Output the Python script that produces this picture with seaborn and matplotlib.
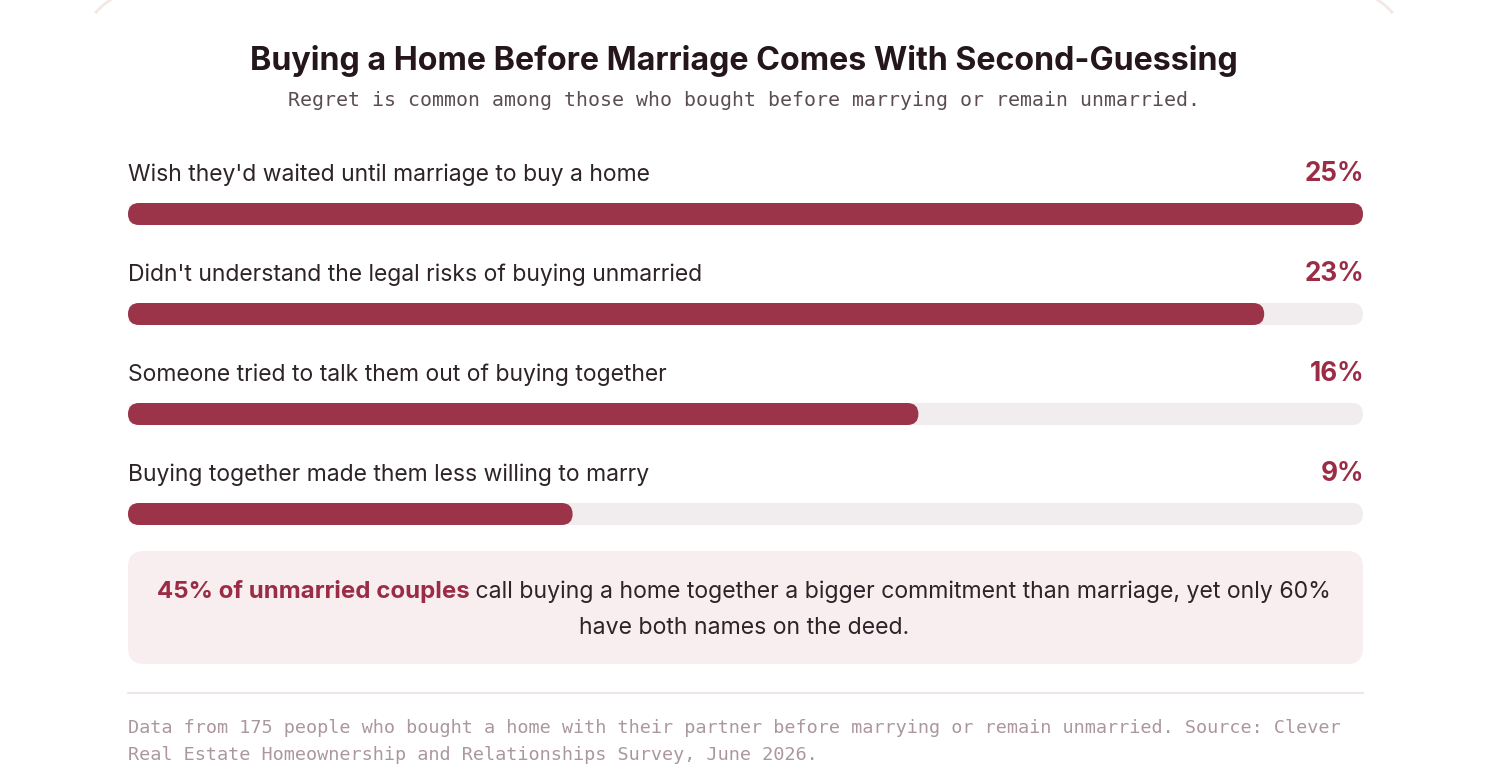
import matplotlib
matplotlib.use("Agg")
import matplotlib.pyplot as plt
import seaborn as sns
import pandas as pd
from matplotlib.patches import FancyBboxPatch, Arc

# ---- data ----
categories = [
    "Wish they'd waited until marriage to buy a home",
    "Didn't understand the legal risks of buying unmarried",
    "Someone tried to talk them out of buying together",
    "Buying together made them less willing to marry",
]
values = [25, 23, 16, 9]
title = "Buying a Home Before Marriage Comes With Second-Guessing"
subtitle = "Regret is common among those who bought before marrying or remain unmarried."
callout_bold = "45% of unmarried couples"
callout_line1 = " call buying a home together a bigger commitment than marriage, yet only 60%"
callout_line2 = "have both names on the deed."
footer_lines = [
    "Data from 175 people who bought a home with their partner before marrying or remain unmarried. Source: Clever",
    "Real Estate Homeownership and Relationships Survey, June 2026.",
]

BAR = "#9b3449"
TRACK = "#f1edee"
PCT = "#9b2c45"
TITLE_C = "#24161b"
LABEL_C = "#2d2328"
SUB_C = "#5b4d52"
BOX_C = "#f8eef0"
DIV_C = "#eee6e5"
FOOT_C = "#ab979c"

sns.set_theme(style="white")
plt.rcParams["font.family"] = ["Inter", "DejaVu Sans"]

W, H = 1488, 779
fig = plt.figure(figsize=(W / 100, H / 100), dpi=100)
fig.patch.set_facecolor("white")

ax0 = fig.add_axes([0, 0, 1, 1])
ax0.set_xlim(0, W)
ax0.set_ylim(H, 0)
ax0.axis("off")
ax0.set_zorder(2)
ax0.patch.set_alpha(0)

x0, x1 = 128, 1363
top, bot = 164, 564
ax = fig.add_axes([x0 / W, (H - bot) / H, (x1 - x0) / W, (bot - top) / H])
df = pd.DataFrame({"cat": categories, "val": values, "full": [max(values)] * len(values)})
sns.barplot(data=df, y="cat", x="full", color=TRACK, width=0.22, ax=ax, saturation=1)
sns.barplot(data=df, y="cat", x="val", color=BAR, width=0.22, ax=ax, saturation=1)
ax.set_xlim(0, max(values))
ax.set_ylim(len(categories) - 0.5, -0.5)
ax.axis("off")

fig.canvas.draw()
renderer = fig.canvas.get_renderer()
inv = ax0.transData.inverted()
for p in list(ax.patches):
    bb = p.get_window_extent(renderer)
    (px0, py0), (px1, py1) = inv.transform([(bb.x0, bb.y0), (bb.x1, bb.y1)])
    ytop, ybot = min(py0, py1), max(py0, py1)
    fc = p.get_facecolor()
    p.set_visible(False)
    h = ybot - ytop
    ax0.add_patch(FancyBboxPatch((px0, ytop), px1 - px0, h,
                                 boxstyle=f"round,pad=0,rounding_size={h/2}",
                                 facecolor=fc, edgecolor="none", zorder=1))

# card corner hints
ax0.add_patch(Arc((145, 55), 130, 130, theta1=220, theta2=250, color="#f3e9e4", lw=2))
ax0.add_patch(Arc((W - 145, 55), 130, 130, theta1=290, theta2=320, color="#f3e9e4", lw=2))

ax0.text(W / 2, 70, title, ha="center", va="baseline", fontsize=23.2,
         fontweight="bold", color=TITLE_C)
ax0.text(W / 2, 106, subtitle, ha="center", va="baseline", fontsize=14.35,
         family=["DejaVu Sans Mono"], color=SUB_C)

for i, (c, v) in enumerate(zip(categories, values)):
    yb = 181 + 100 * i
    ax0.text(x0, yb, c, ha="left", va="baseline", fontsize=16.5, color=LABEL_C)
    ax0.text(x1 + 1, yb, f"{v}%", ha="right", va="baseline", fontsize=18.8,
             fontweight="bold", color=PCT)

ax0.add_patch(FancyBboxPatch((x0, 551), x1 - x0, 113,
                             boxstyle="round,pad=0,rounding_size=16",
                             facecolor=BOX_C, edgecolor="none", zorder=1))
tb = ax0.text(0, 598, callout_bold, ha="left", va="baseline", fontsize=17.3,
              fontweight="bold", color=PCT)
tr = ax0.text(0, 598, callout_line1, ha="left", va="baseline", fontsize=16.6, color=LABEL_C)
fig.canvas.draw()
wb = tb.get_window_extent(renderer).width
wr = tr.get_window_extent(renderer).width
start = W / 2 - (wb + wr) / 2
tb.set_x(start)
tr.set_x(start + wb)
ax0.text(W / 2, 634, callout_line2, ha="center", va="baseline", fontsize=16.6, color=LABEL_C)

ax0.plot([x0, x1], [693, 693], color=DIV_C, lw=1.5)

for j, line in enumerate(footer_lines):
    ax0.text(x0, 733 + 27 * j, line, ha="left", va="baseline", fontsize=13.32,
             family=["DejaVu Sans Mono"], color=FOOT_C)

fig.savefig("out.png", dpi=100, facecolor="white")
